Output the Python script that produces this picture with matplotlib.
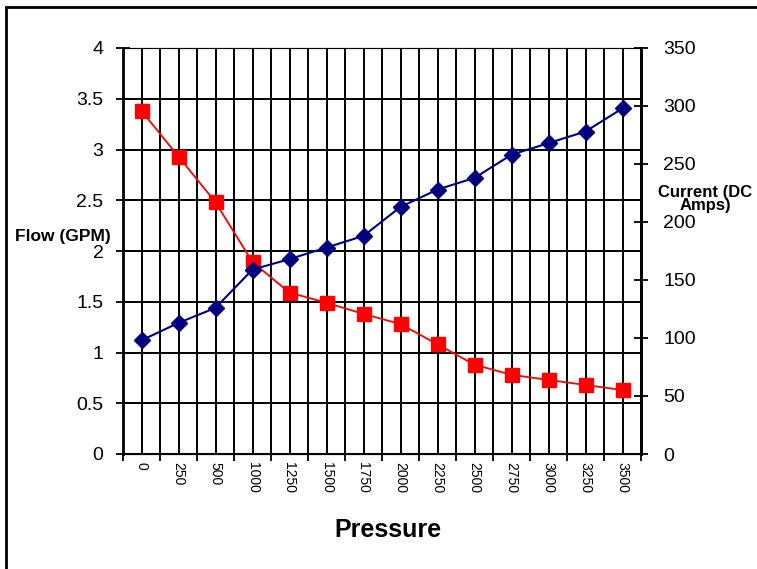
import matplotlib
matplotlib.use('Agg')
import matplotlib.pyplot as plt
from matplotlib.patches import Rectangle
import numpy as np

plt.rcParams['font.family'] = ['Liberation Sans', 'DejaVu Sans']

pressure = ['0', '250', '500', '1000', '1250', '1500', '1750', '2000',
            '2250', '2500', '2750', '3000', '3250', '3500']
flow_gpm = [3.38, 2.93, 2.48, 1.89, 1.59, 1.49, 1.38, 1.28,
            1.08, 0.88, 0.78, 0.73, 0.68, 0.63]
current_amps = [98, 113, 126, 159, 168, 178, 188, 213,
                228, 238, 258, 268, 278, 298]

fig = plt.figure(figsize=(7.57, 5.69), dpi=100)
ax = fig.add_axes([123/757, 1 - 454/569, (641 - 123)/757, (454 - 48)/569])
x = np.arange(len(pressure))

# flow on the left axis
ax.plot(x, flow_gpm, color='#ff0000', marker='s', markersize=10, lw=1.3, zorder=3)
ax.set_xlim(-0.5, len(pressure) - 0.5)
ax.set_ylim(0, 4)
ax.set_yticks(np.arange(0, 4.01, 0.5))
ax.set_yticklabels(['0', '0.5', '1', '1.5', '2', '2.5', '3', '3.5', '4'], fontsize=14)
ax.set_xticks(x)
ax.set_xticklabels(pressure, rotation=-90, fontsize=10)
ax.set_xticks(np.arange(-0.5, len(pressure)), minor=True)
ax.tick_params(axis='x', which='major', length=0, pad=6)
ax.tick_params(axis='x', which='minor', length=5, width=1.3, direction='out')
ax.tick_params(axis='y', direction='inout', length=10, width=1.3, pad=9)
ax.grid(True, which='both', axis='x', color='black', lw=1.4)
ax.grid(True, which='major', axis='y', color='black', lw=1.4)
for s in ['left', 'right']:
    ax.spines[s].set_linewidth(2)
ax.spines['top'].set_color('#888888')
ax.spines['bottom'].set_linewidth(1.5)

# current on the right axis
ax2 = ax.twinx()
ax2.plot(x, current_amps, color='#000080', marker='D', markersize=8, lw=1.5, zorder=4)
ax2.set_ylim(0, 350)
ax2.set_yticks(np.arange(0, 351, 50))
ax2.tick_params(axis='y', direction='inout', length=10, width=1.3, labelsize=14, pad=11)
ax2.spines['right'].set_linewidth(2)

fig.text(15/757, 1 - 236/569, 'Flow (GPM)', fontsize=12.5, fontweight='bold',
         ha='left', va='center')
fig.text(705/757, 1 - 199/569, 'Current (DC\nAmps)', fontsize=12, fontweight='bold',
         ha='center', va='center', linespacing=0.9)
fig.text(388/757, 1 - 530/569, 'Pressure', fontsize=18, fontweight='bold',
         ha='center', va='center')

# outer frame (only left and top edges visible)
fig.add_artist(Rectangle((6/757, -0.2), 1.5, 1.2 - 7/569, transform=fig.transFigure,
                         fill=False, edgecolor='black', lw=2, clip_on=False))

fig.savefig('out.png', dpi=100)
